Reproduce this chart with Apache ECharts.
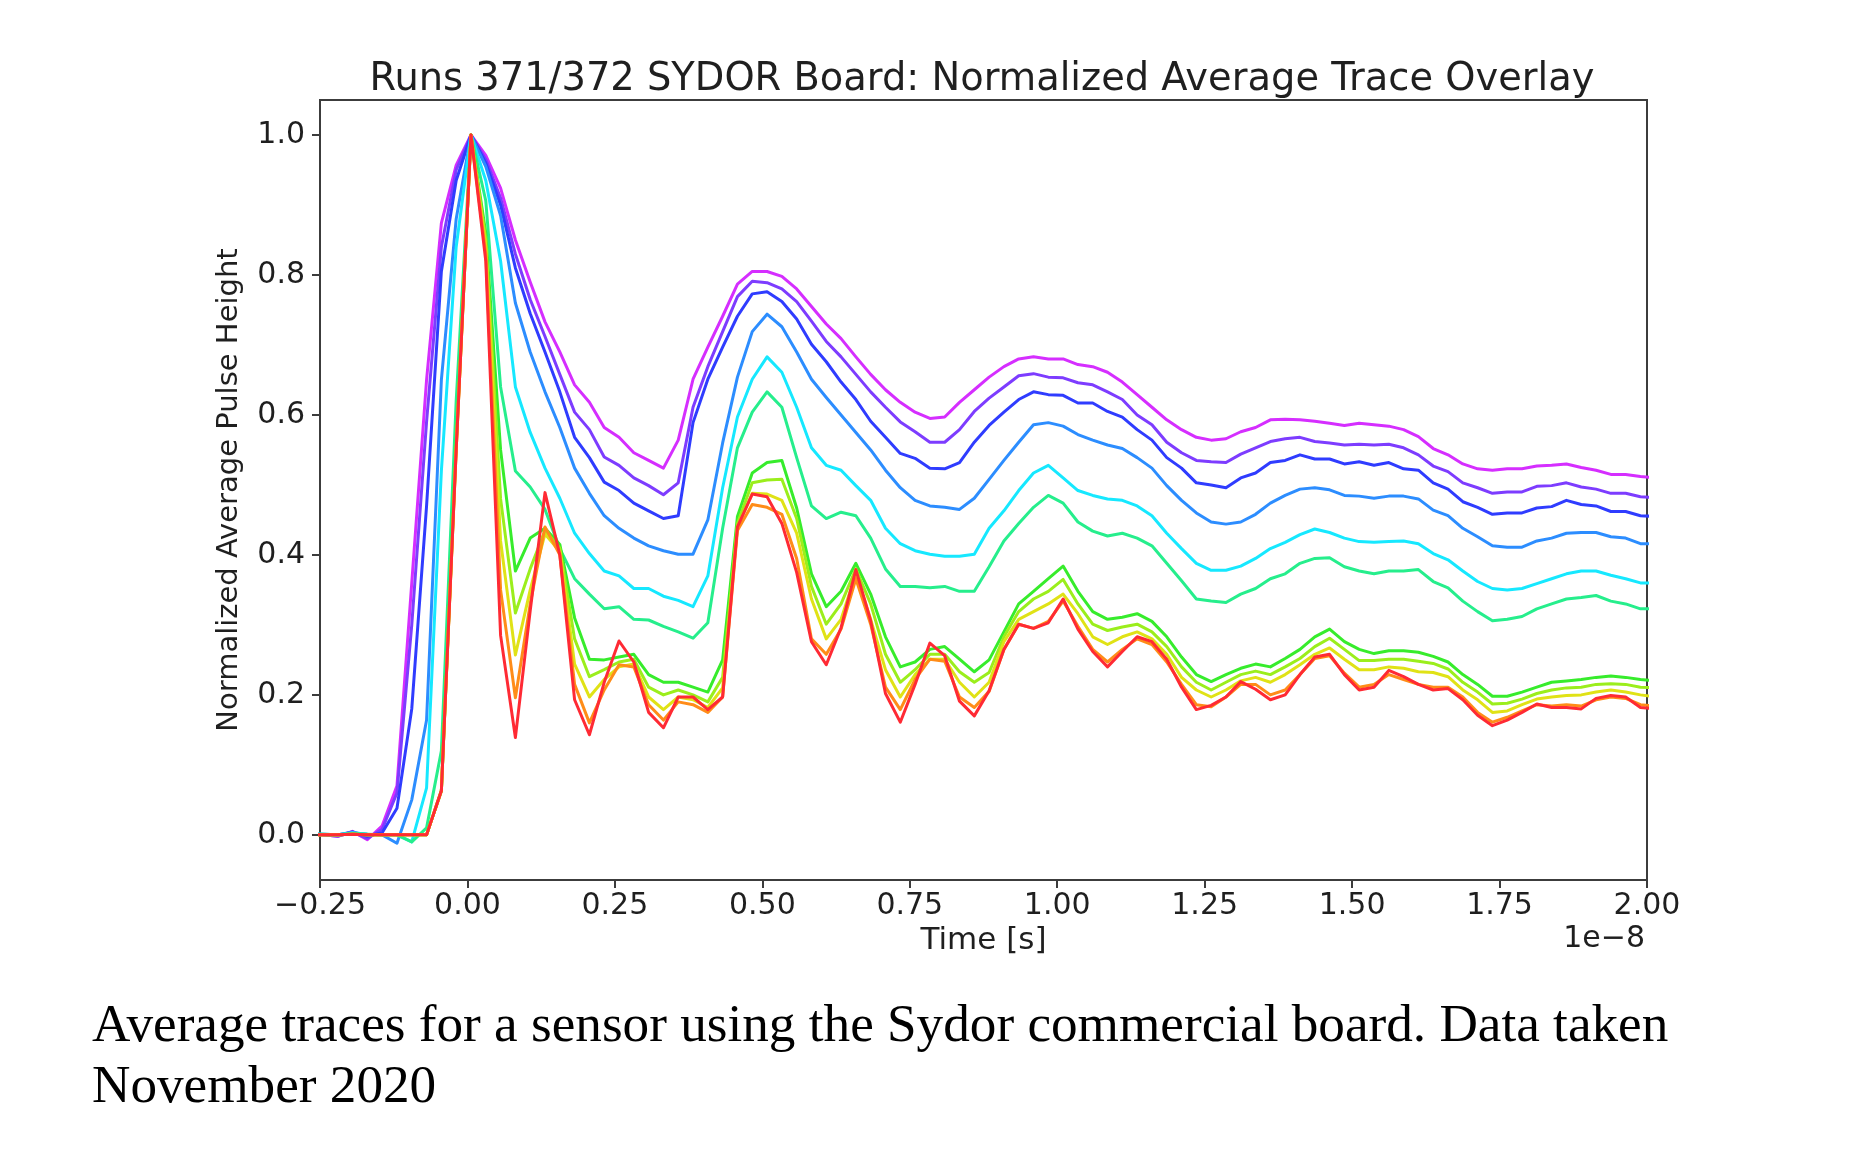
<!DOCTYPE html>
<html>
<head>
<meta charset="utf-8">
<script src="https://cdn.jsdelivr.net/npm/echarts@6/dist/echarts.min.js"></script>
<style>
  html, body { margin: 0; padding: 0; background: #ffffff; }
  #chart { width: 1870px; height: 1155px; }
</style>
</head>
<body>
<div id="chart"></div>
<script>
// Digitizer sample clock, in units of 1e-8 s (one sample every 0.251 ns)
const SAMPLE_START = -0.2701;
const SAMPLE_STEP = 0.0251;

// Axis ticks
const xTicks = [-0.25, 0, 0.25, 0.5, 0.75, 1.0, 1.25, 1.5, 1.75, 2.0];
const yTicks = [0.0, 0.2, 0.4, 0.6, 0.8, 1.0];

// Normalized average traces, one array per run setting (92 samples each)
const traceMagenta = [
  0.002, 0.000, -0.002, 0.005, -0.007, 0.013, 0.070, 0.360, 0.650, 0.874, 0.957,
  1.000, 0.971, 0.924, 0.850, 0.790,
  0.733, 0.690, 0.643, 0.618, 0.582, 0.568, 0.546, 0.535, 0.524, 0.564, 0.651, 0.697, 0.741, 0.787, 0.805, 0.805,
  0.798, 0.780, 0.755, 0.730, 0.709, 0.683, 0.658, 0.636, 0.618, 0.604, 0.595, 0.597, 0.618, 0.636, 0.654,
  0.669, 0.680, 0.683, 0.680, 0.680, 0.672, 0.669, 0.661, 0.647, 0.629, 0.611, 0.593, 0.579, 0.568, 0.564,
  0.566, 0.576, 0.582, 0.593, 0.594, 0.593, 0.591, 0.588, 0.585, 0.588, 0.586, 0.584, 0.579, 0.569, 0.552,
  0.543, 0.530, 0.523, 0.521, 0.523, 0.523, 0.527, 0.528, 0.530, 0.525, 0.521, 0.515, 0.515, 0.512, 0.510
];
const traceViolet = [
  0.002, 0.000, -0.002, 0.004, -0.005, 0.008, 0.060, 0.300, 0.590, 0.840, 0.950,
  1.000, 0.965, 0.910, 0.830, 0.765,
  0.712, 0.658, 0.604, 0.579, 0.540, 0.528, 0.510, 0.499, 0.486, 0.503, 0.611, 0.669, 0.719, 0.769, 0.791, 0.789,
  0.780, 0.762, 0.734, 0.705, 0.683, 0.658, 0.633, 0.611, 0.590, 0.576, 0.561, 0.561, 0.579, 0.605, 0.624,
  0.640, 0.656, 0.659, 0.654, 0.653, 0.646, 0.643, 0.633, 0.622, 0.600, 0.586, 0.561, 0.546, 0.535, 0.533,
  0.532, 0.544, 0.553, 0.562, 0.566, 0.568, 0.562, 0.560, 0.557, 0.558, 0.557, 0.558, 0.553, 0.543, 0.527,
  0.519, 0.503, 0.496, 0.488, 0.490, 0.490, 0.498, 0.499, 0.503, 0.497, 0.494, 0.488, 0.488, 0.483, 0.482
];
const traceBlue = [
  0.002, 0.000, 0.000, 0.004, -0.002, 0.003, 0.038, 0.180, 0.470, 0.805, 0.935,
  1.000, 0.960, 0.900, 0.810, 0.745,
  0.690, 0.633, 0.568, 0.539, 0.504, 0.492, 0.474, 0.463, 0.452, 0.456, 0.589, 0.651, 0.697, 0.741, 0.773, 0.776,
  0.762, 0.737, 0.701, 0.676, 0.647, 0.622, 0.591, 0.568, 0.545, 0.538, 0.524, 0.523, 0.532, 0.561, 0.585,
  0.604, 0.622, 0.633, 0.629, 0.628, 0.617, 0.617, 0.605, 0.597, 0.579, 0.564, 0.539, 0.524, 0.503, 0.500,
  0.496, 0.510, 0.517, 0.532, 0.535, 0.543, 0.537, 0.537, 0.530, 0.533, 0.528, 0.532, 0.523, 0.521, 0.503,
  0.494, 0.476, 0.468, 0.458, 0.460, 0.460, 0.467, 0.469, 0.478, 0.472, 0.470, 0.462, 0.462, 0.456, 0.455
];
const traceAzure = [
  0.002, 0.001, 0.000, 0.003, 0.001, 0.000, -0.012, 0.050, 0.164, 0.650, 0.880,
  1.000, 0.955, 0.885, 0.760, 0.690,
  0.633, 0.582, 0.524, 0.488, 0.456, 0.438, 0.424, 0.413, 0.406, 0.401, 0.401, 0.450, 0.560, 0.654, 0.719, 0.744,
  0.726, 0.690, 0.651, 0.625, 0.600, 0.575, 0.550, 0.521, 0.496, 0.478, 0.470, 0.468, 0.465, 0.481, 0.508,
  0.535, 0.561, 0.586, 0.589, 0.584, 0.572, 0.564, 0.557, 0.552, 0.539, 0.524, 0.499, 0.478, 0.460, 0.447,
  0.444, 0.447, 0.458, 0.474, 0.485, 0.494, 0.496, 0.493, 0.485, 0.484, 0.481, 0.484, 0.484, 0.480, 0.464,
  0.456, 0.438, 0.426, 0.413, 0.411, 0.411, 0.420, 0.424, 0.431, 0.432, 0.432, 0.426, 0.424, 0.416, 0.416
];
const traceCyan = [
  0.002, 0.001, 0.000, 0.003, 0.001, 0.000, 0.000, -0.010, 0.067, 0.520, 0.840,
  1.000, 0.935, 0.820, 0.640, 0.575,
  0.524, 0.481, 0.431, 0.402, 0.377, 0.370, 0.352, 0.352, 0.341, 0.335, 0.326, 0.370, 0.496, 0.597, 0.651, 0.683,
  0.661, 0.611, 0.553, 0.528, 0.521, 0.499, 0.478, 0.438, 0.416, 0.406, 0.401, 0.398, 0.398, 0.401, 0.438,
  0.463, 0.492, 0.517, 0.528, 0.510, 0.492, 0.485, 0.480, 0.478, 0.470, 0.456, 0.431, 0.409, 0.388, 0.378,
  0.378, 0.384, 0.395, 0.409, 0.418, 0.429, 0.437, 0.432, 0.424, 0.419, 0.418, 0.419, 0.420, 0.416, 0.402,
  0.393, 0.377, 0.362, 0.352, 0.350, 0.352, 0.359, 0.366, 0.373, 0.377, 0.377, 0.371, 0.366, 0.360, 0.360
];
const traceSpring = [
  0.001, 0.001, 0.000, 0.002, 0.001, 0.000, 0.000, -0.010, 0.010, 0.120, 0.620,
  1.000, 0.906, 0.640, 0.520, 0.497,
  0.465, 0.409, 0.366, 0.344, 0.323, 0.326, 0.308, 0.307, 0.298, 0.290, 0.281, 0.303, 0.438, 0.553, 0.604, 0.633,
  0.611, 0.539, 0.470, 0.452, 0.461, 0.456, 0.424, 0.380, 0.355, 0.355, 0.353, 0.355, 0.348, 0.348, 0.383,
  0.420, 0.445, 0.468, 0.485, 0.474, 0.447, 0.434, 0.427, 0.431, 0.424, 0.413, 0.388, 0.363, 0.337, 0.334,
  0.332, 0.344, 0.352, 0.366, 0.373, 0.388, 0.395, 0.396, 0.383, 0.377, 0.373, 0.377, 0.377, 0.379, 0.362,
  0.353, 0.334, 0.319, 0.306, 0.308, 0.312, 0.323, 0.330, 0.337, 0.339, 0.342, 0.334, 0.330, 0.323, 0.323
];
const traceGreen = [
  0.000, 0.000, 0.000, 0.001, 0.000, 0.000, 0.000, 0.000, 0.000, 0.063, 0.560,
  1.000, 0.860, 0.550, 0.377, 0.424,
  0.438, 0.415, 0.310, 0.251, 0.250, 0.254, 0.258, 0.229, 0.218, 0.218, 0.211, 0.204, 0.250, 0.455, 0.517, 0.532,
  0.535, 0.467, 0.373, 0.326, 0.348, 0.388, 0.344, 0.283, 0.240, 0.247, 0.265, 0.269, 0.251, 0.233, 0.250,
  0.290, 0.330, 0.348, 0.366, 0.384, 0.348, 0.319, 0.308, 0.311, 0.316, 0.305, 0.283, 0.254, 0.229, 0.219,
  0.229, 0.238, 0.244, 0.240, 0.252, 0.265, 0.283, 0.294, 0.276, 0.265, 0.259, 0.263, 0.263, 0.261, 0.255,
  0.247, 0.229, 0.215, 0.198, 0.198, 0.204, 0.211, 0.218, 0.220, 0.222, 0.225, 0.227, 0.225, 0.222, 0.220
];
const traceLime = [
  0.000, 0.000, 0.000, 0.001, 0.000, 0.000, 0.000, 0.000, 0.000, 0.063, 0.555,
  1.000, 0.850, 0.480, 0.317, 0.380,
  0.435, 0.410, 0.280, 0.226, 0.236, 0.247, 0.251, 0.211, 0.200, 0.207, 0.200, 0.190, 0.225, 0.445, 0.503, 0.507,
  0.508, 0.452, 0.355, 0.301, 0.330, 0.380, 0.330, 0.258, 0.218, 0.236, 0.258, 0.258, 0.233, 0.218, 0.232,
  0.283, 0.319, 0.337, 0.348, 0.365, 0.330, 0.301, 0.292, 0.297, 0.301, 0.290, 0.269, 0.240, 0.218, 0.207,
  0.218, 0.229, 0.234, 0.229, 0.240, 0.252, 0.269, 0.281, 0.265, 0.249, 0.249, 0.251, 0.251, 0.248, 0.245,
  0.237, 0.218, 0.204, 0.187, 0.188, 0.194, 0.202, 0.207, 0.210, 0.211, 0.215, 0.216, 0.215, 0.211, 0.210
];
const traceYellow = [
  0.000, 0.000, 0.000, 0.001, 0.000, 0.000, 0.000, 0.000, 0.000, 0.063, 0.550,
  1.000, 0.840, 0.420, 0.257, 0.350,
  0.430, 0.405, 0.244, 0.197, 0.222, 0.240, 0.244, 0.197, 0.179, 0.197, 0.193, 0.182, 0.210, 0.440, 0.488, 0.487,
  0.478, 0.431, 0.337, 0.280, 0.308, 0.373, 0.308, 0.236, 0.197, 0.229, 0.251, 0.251, 0.218, 0.197, 0.218,
  0.276, 0.308, 0.319, 0.330, 0.344, 0.316, 0.283, 0.272, 0.283, 0.290, 0.280, 0.258, 0.225, 0.207, 0.197,
  0.207, 0.220, 0.225, 0.218, 0.229, 0.243, 0.258, 0.267, 0.251, 0.236, 0.236, 0.240, 0.238, 0.233, 0.232,
  0.226, 0.207, 0.193, 0.175, 0.177, 0.186, 0.194, 0.197, 0.199, 0.200, 0.204, 0.207, 0.204, 0.200, 0.197
];
const traceOrange = [
  0.000, 0.000, 0.000, 0.001, 0.000, 0.000, 0.000, 0.000, 0.000, 0.063, 0.550,
  1.000, 0.830, 0.350, 0.196, 0.330,
  0.440, 0.400, 0.215, 0.160, 0.207, 0.243, 0.240, 0.186, 0.164, 0.190, 0.186, 0.175, 0.197, 0.435, 0.472, 0.468,
  0.458, 0.395, 0.280, 0.258, 0.294, 0.366, 0.301, 0.211, 0.179, 0.222, 0.251, 0.248, 0.197, 0.182, 0.205,
  0.265, 0.301, 0.295, 0.305, 0.334, 0.298, 0.265, 0.247, 0.265, 0.280, 0.272, 0.247, 0.215, 0.186, 0.183,
  0.197, 0.215, 0.215, 0.200, 0.207, 0.229, 0.252, 0.256, 0.231, 0.211, 0.215, 0.229, 0.222, 0.215, 0.211,
  0.211, 0.197, 0.175, 0.161, 0.168, 0.177, 0.186, 0.184, 0.186, 0.184, 0.193, 0.197, 0.195, 0.186, 0.184
];
const traceRed = [
  0.000, 0.000, 0.000, 0.001, 0.000, 0.000, 0.000, 0.000, 0.000, 0.063, 0.550,
  1.000, 0.820, 0.285, 0.139, 0.320,
  0.489, 0.400, 0.193, 0.143, 0.218, 0.277, 0.247, 0.175, 0.153, 0.197, 0.197, 0.179, 0.197, 0.440, 0.487, 0.483,
  0.445, 0.375, 0.276, 0.243, 0.296, 0.379, 0.306, 0.202, 0.161, 0.215, 0.274, 0.256, 0.191, 0.170, 0.206,
  0.265, 0.301, 0.295, 0.303, 0.337, 0.294, 0.262, 0.240, 0.262, 0.283, 0.276, 0.251, 0.211, 0.179, 0.185,
  0.197, 0.219, 0.208, 0.193, 0.200, 0.229, 0.254, 0.258, 0.229, 0.207, 0.211, 0.235, 0.226, 0.215, 0.207,
  0.209, 0.193, 0.171, 0.156, 0.164, 0.175, 0.187, 0.182, 0.182, 0.180, 0.195, 0.199, 0.197, 0.182, 0.180
];

const traces = [
  { name: 'trace 1',  color: '#d52eff', values: traceMagenta },
  { name: 'trace 2',  color: '#7d3cff', values: traceViolet },
  { name: 'trace 3',  color: '#2f3cff', values: traceBlue },
  { name: 'trace 4',  color: '#2c8dff', values: traceAzure },
  { name: 'trace 5',  color: '#16e8ff', values: traceCyan },
  { name: 'trace 6',  color: '#26ee8c', values: traceSpring },
  { name: 'trace 7',  color: '#37ec2c', values: traceGreen },
  { name: 'trace 8',  color: '#9bee1c', values: traceLime },
  { name: 'trace 9',  color: '#e0e216', values: traceYellow },
  { name: 'trace 10', color: '#ff8c18', values: traceOrange },
  { name: 'trace 11', color: '#ff2a34', values: traceRed }
];

const FONT = 'DejaVu Sans';
const TEXT = '#1f1f1f';
const FRAME = '#3c3c3c';

function sampleTime(i) {
  return SAMPLE_START + SAMPLE_STEP * i;
}

const series = traces.map(tr => ({
  name: tr.name,
  type: 'line',
  showSymbol: false,
  symbol: 'none',
  clip: true,
  silent: true,
  lineStyle: { width: 3, color: tr.color, join: 'round', cap: 'round' },
  data: tr.values.map((v, i) => [sampleTime(i), v])
}));

const chart = echarts.init(document.getElementById('chart'), null, { renderer: 'canvas' });

chart.setOption({
  animation: false,
  backgroundColor: '#ffffff',
  title: {
    text: 'Runs 371/372 SYDOR Board: Normalized Average Trace Overlay',
    left: 977,
    top: 56,
    textAlign: 'center',
    textStyle: { fontFamily: FONT, fontSize: 38.4, fontWeight: 'normal', color: TEXT }
  },
  grid: {
    left: 320, right: 223, top: 100, bottom: 275,
    show: true, borderColor: FRAME, borderWidth: 2, backgroundColor: 'transparent'
  },
  xAxis: {
    type: 'value',
    min: xTicks[0],
    max: xTicks[xTicks.length - 1],
    interval: 0.25,
    name: 'Time [s]',
    nameLocation: 'middle',
    nameGap: 43,
    nameTextStyle: { fontFamily: FONT, fontSize: 31, color: TEXT },
    axisLine: { show: false, onZero: false },
    axisTick: { show: true, inside: false, length: 8, lineStyle: { color: FRAME, width: 2 } },
    axisLabel: {
      margin: 11,
      fontFamily: FONT, fontSize: 30, color: TEXT,
      formatter: v => (v < 0 ? '\u2212' + Math.abs(v).toFixed(2) : v.toFixed(2))
    },
    splitLine: { show: false }
  },
  yAxis: {
    type: 'value',
    min: -0.0645,
    max: 1.05,
    name: 'Normalized Average Pulse Height',
    nameLocation: 'middle',
    nameRotate: 90,
    nameGap: 76,
    nameTextStyle: { fontFamily: FONT, fontSize: 29, color: TEXT },
    axisLine: { show: false, onZero: false },
    axisTick: { show: true, inside: false, length: 8, customValues: yTicks, lineStyle: { color: FRAME, width: 2 } },
    axisLabel: {
      margin: 15,
      fontFamily: FONT, fontSize: 30, color: TEXT,
      customValues: yTicks,
      formatter: v => v.toFixed(1)
    },
    splitLine: { show: false }
  },
  graphic: [
    {
      type: 'text', x: 1645, y: 939,
      style: { text: '1e\u22128', font: '30px "DejaVu Sans"', fill: TEXT, textAlign: 'right', textVerticalAlign: 'middle' }
    },
    {
      type: 'text', x: 92, y: 1027,
      style: {
        text: 'Average traces for a sensor using the Sydor commercial board. Data taken',
        font: '53.2px "Liberation Serif"', fill: '#000000', textAlign: 'left', textVerticalAlign: 'middle'
      }
    },
    {
      type: 'text', x: 92, y: 1088,
      style: {
        text: 'November 2020',
        font: '53.2px "Liberation Serif"', fill: '#000000', textAlign: 'left', textVerticalAlign: 'middle'
      }
    }
  ],
  series: series
});
</script>
</body>
</html>
